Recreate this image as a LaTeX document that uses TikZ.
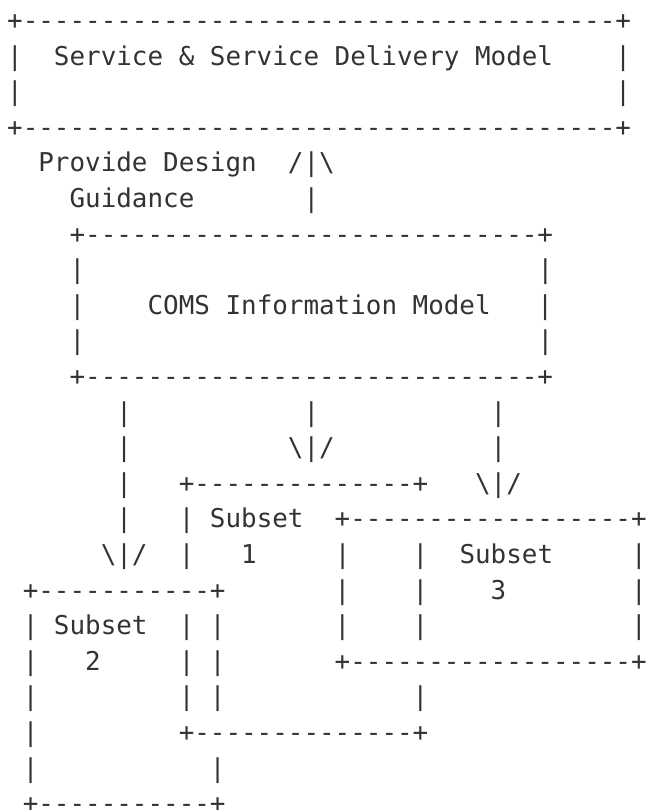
\documentclass[tikz,border=0pt]{standalone}
\usepackage{fontspec}
\setmonofont{DejaVu Sans Mono}
\definecolor{ink}{HTML}{333333}
\ExplSyntaxOn
\NewDocumentCommand\dsh{m}{\prg_replicate:nn{#1}{-}}
\NewDocumentCommand\spc{m}{\prg_replicate:nn{#1}{\c_space_token}}
\ExplSyntaxOff
\newcommand\bs{\textbackslash}
% one text row of the figure: name, row, first column, text
\newcommand\asciirow[4]{\node[ascii] (#1) at ({7.2+15.6*#3},{29.4+35.6*(#2-1)}) {#4};}
\begin{document}
\begin{tikzpicture}[x=0.75pt,y=-0.75pt,
  ascii/.style={anchor=base west, inner sep=0pt, outer sep=0pt, text=ink,
    font=\ttfamily\fontsize{19.43pt}{26.7pt}\selectfont}]
\useasboundingbox (0,0) rectangle (648,810);
\asciirow{l1}{1}{0}{+\dsh{38}+}
\asciirow{l2}{2}{0}{|\spc{2}Service \& Service Delivery Model\spc{4}|}
\asciirow{l3}{3}{0}{|\spc{38}|}
\asciirow{l4}{4}{0}{+\dsh{38}+}
\asciirow{l5}{5}{2}{Provide Design\spc{2}/|\bs}
\asciirow{l6}{6}{4}{Guidance\spc{7}|}
\asciirow{l7}{7}{4}{+\dsh{29}+}
\asciirow{l8}{8}{4}{|\spc{29}|}
\asciirow{l9}{9}{4}{|\spc{4}COMS Information Model\spc{3}|}
\asciirow{l10}{10}{4}{|\spc{29}|}
\asciirow{l11}{11}{4}{+\dsh{29}+}
\asciirow{l12}{12}{7}{|\spc{11}|\spc{11}|}
\asciirow{l13}{13}{7}{|\spc{10}\bs|/\spc{10}|}
\asciirow{l14}{14}{7}{|\spc{3}+\dsh{14}+\spc{3}\bs|/}
\asciirow{l15}{15}{7}{|\spc{3}| Subset\spc{2}+\dsh{18}+}
\asciirow{l16}{16}{6}{\bs|/\spc{2}|\spc{3}1\spc{5}|\spc{4}|\spc{2}Subset\spc{5}|}
\asciirow{l17}{17}{1}{+\dsh{11}+\spc{7}|\spc{4}|\spc{4}3\spc{8}|}
\asciirow{l18}{18}{1}{| Subset\spc{2}| |\spc{7}|\spc{4}|\spc{13}|}
\asciirow{l19}{19}{1}{|\spc{3}2\spc{5}| |\spc{7}+\dsh{18}+}
\asciirow{l20}{20}{1}{|\spc{9}| |\spc{12}|}
\asciirow{l21}{21}{1}{|\spc{9}+\dsh{14}+}
\asciirow{l22}{22}{1}{|\spc{11}|}
\asciirow{l23}{23}{1}{+\dsh{11}+}
\end{tikzpicture}
\end{document}
